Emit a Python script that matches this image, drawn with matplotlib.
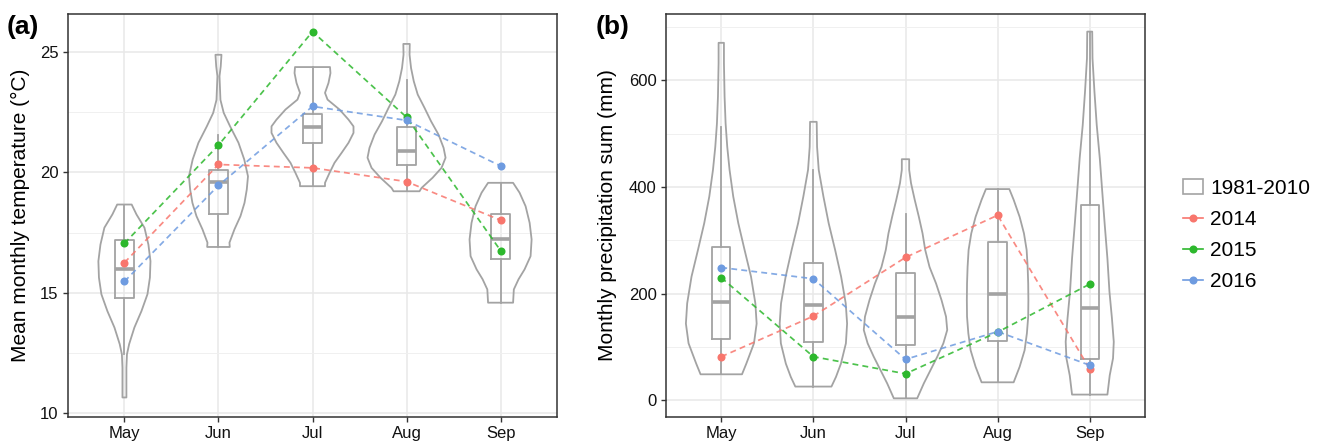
import numpy as np
import matplotlib
matplotlib.use("Agg")
import matplotlib.pyplot as plt
from matplotlib.lines import Line2D
from matplotlib.patches import Patch

plt.rcParams['font.family'] = ['Liberation Sans', 'DejaVu Sans']

months = ["May", "Jun", "Jul", "Aug", "Sep"]
years = ["2014", "2015", "2016"]
year_colors = ["#F8766D", "#2DB82D", "#6E9BE0"]
ref_label = "1981-2010"

# ---- panel (a): mean monthly temperature (deg C) ----
temp_2014 = [16.25, 20.32, 20.18, 19.61, 18.01]
temp_2015 = [17.05, 21.12, 25.83, 22.28, 16.75]
temp_2016 = [15.47, 19.45, 22.73, 22.15, 20.26]

temp_whislo = [12.45, 16.90, 19.42, 19.21, 14.59]
temp_q1 = [14.80, 18.28, 21.22, 20.30, 16.41]
temp_med = [15.98, 19.59, 21.88, 20.86, 17.21]
temp_q3 = [17.17, 20.11, 22.43, 21.86, 18.28]
temp_whishi = [18.66, 21.55, 24.36, 23.84, 19.56]

# violin density profiles (value, half width in category units), 1981-2010
temp_may_v = [18.66, 18.25, 17.70, 17.00, 16.31, 15.63, 14.94, 14.24, 13.56, 12.87, 12.45, 11.90, 10.66]
temp_may_w = [0.077, 0.128, 0.213, 0.255, 0.277, 0.271, 0.245, 0.181, 0.106, 0.050, 0.027, 0.021, 0.021]
temp_jun_v = [24.87, 24.39, 23.98, 23.00, 22.46, 21.90, 21.22, 20.53, 19.83, 19.28, 18.73, 18.18, 17.63, 17.08, 16.90]
temp_jun_w = [0.032, 0.024, 0.011, 0.021, 0.056, 0.124, 0.213, 0.274, 0.314, 0.301, 0.277, 0.234, 0.170, 0.117, 0.120]
temp_jul_v = [24.36, 24.11, 23.70, 23.29, 23.01, 22.60, 22.18, 21.90, 21.63, 21.22, 20.80, 20.39, 19.97, 19.56, 19.42]
temp_jul_w = [0.186, 0.191, 0.170, 0.133, 0.160, 0.287, 0.383, 0.436, 0.436, 0.383, 0.309, 0.234, 0.181, 0.133, 0.133]
temp_aug_v = [25.32, 24.87, 24.32, 23.77, 23.22, 22.67, 22.11, 21.56, 21.01, 20.60, 20.18, 19.77, 19.35, 19.21]
temp_aug_w = [0.034, 0.032, 0.048, 0.077, 0.119, 0.191, 0.261, 0.340, 0.394, 0.415, 0.372, 0.277, 0.160, 0.138]
temp_sep_v = [19.56, 19.15, 18.59, 17.90, 17.21, 16.52, 15.97, 15.56, 15.14, 14.59]
temp_sep_w = [0.133, 0.202, 0.266, 0.309, 0.330, 0.319, 0.255, 0.191, 0.141, 0.133]

# ---- panel (b): monthly precipitation sum (mm) ----
prec_2014 = [82, 158, 268, 347, 59]
prec_2015 = [230, 82, 50, 128, 218]
prec_2016 = [249, 228, 77, 129, 66]

prec_whislo = [49, 26, 4, 34, 11]
prec_q1 = [116, 109, 103, 111, 77]
prec_med = [184, 178, 156, 199, 174]
prec_q3 = [287, 258, 239, 296, 366]
prec_whishi = [513, 432, 349, 396, 691]

prec_may_v = [670, 632, 569, 519, 475, 432, 382, 332, 282, 232, 182, 144, 107, 69, 49]
prec_may_w = [0.029, 0.029, 0.036, 0.047, 0.065, 0.090, 0.130, 0.185, 0.253, 0.323, 0.370, 0.384, 0.355, 0.272, 0.225]
prec_jun_v = [522, 475, 432, 382, 332, 282, 232, 182, 144, 107, 69, 44, 26]
prec_jun_w = [0.036, 0.040, 0.058, 0.109, 0.166, 0.236, 0.301, 0.351, 0.366, 0.353, 0.299, 0.245, 0.196]
prec_jul_v = [452, 432, 407, 376, 344, 313, 282, 250, 219, 188, 157, 132, 107, 82, 57, 32, 4]
prec_jul_w = [0.040, 0.040, 0.060, 0.100, 0.145, 0.185, 0.214, 0.261, 0.332, 0.391, 0.440, 0.453, 0.411, 0.345, 0.272, 0.199, 0.127]
prec_aug_v = [396, 376, 344, 313, 282, 250, 219, 188, 157, 126, 94, 63, 34]
prec_aug_w = [0.127, 0.174, 0.239, 0.286, 0.315, 0.326, 0.332, 0.334, 0.332, 0.318, 0.293, 0.239, 0.174]
prec_sep_v = [691, 641, 579, 516, 454, 391, 329, 266, 204, 154, 110, 79, 47, 11]
prec_sep_w = [0.027, 0.030, 0.051, 0.076, 0.109, 0.136, 0.163, 0.192, 0.214, 0.241, 0.261, 0.253, 0.217, 0.192]

GREY = "#A3A3A3"
BORDER = "#333333"
GRID = "#E8E8E8"

fig = plt.figure(figsize=(13.22, 4.44), dpi=100)
W, H = 1322, 444
ax1 = fig.add_axes([68 / W, 1 - 417 / H, (557 - 68) / W, (417 - 14) / H])
ax2 = fig.add_axes([666 / W, 1 - 417 / H, (1145 - 666) / W, (417 - 14) / H])


def draw_panel(ax, viol_v, viol_w, whislo, q1, med, q3, whishi, series,
               ylim, major, minor):
    pos = np.arange(1, len(months) + 1)
    # violins
    for p, v, w in zip(pos, viol_v, viol_w):
        v = np.asarray(v, float)
        w = np.asarray(w, float)
        xs = np.concatenate([p + w, (p - w)[::-1]])
        ys = np.concatenate([v, v[::-1]])
        ax.fill(xs, ys, facecolor="none", edgecolor=GREY, linewidth=1.3,
                joinstyle="round", zorder=2)
    # boxplots
    stats = []
    for i in range(len(months)):
        stats.append(dict(whislo=whislo[i], q1=q1[i], med=med[i], q3=q3[i],
                          whishi=whishi[i], fliers=[]))
    ax.bxp(stats, positions=pos, widths=0.2, showfliers=False, showcaps=False,
           patch_artist=False, manage_ticks=False,
           boxprops=dict(color=GREY, linewidth=1.3),
           whiskerprops=dict(color=GREY, linewidth=1.3),
           medianprops=dict(color=GREY, linewidth=2.6),
           zorder=3)
    # yearly series
    for vals, col in zip(series, year_colors):
        ax.plot(pos, vals, linestyle=(0, (3.4, 2.4)), color=col, linewidth=1.25,
                alpha=0.85, zorder=4)
        ax.plot(pos, vals, linestyle="none", marker="o", markersize=5.8,
                markeredgewidth=0, color=col, zorder=5)
    ax.set_xlim(0.4, len(months) + 0.6)
    ax.set_ylim(*ylim)
    ax.set_xticks(pos)
    ax.set_xticklabels(months)
    ax.set_yticks(major)
    ax.set_yticks(minor, minor=True)
    ax.grid(True, which="major", color=GRID, linewidth=1.1, zorder=0)
    ax.grid(True, which="minor", axis="y", color="#F0F0F0", linewidth=0.7, zorder=0)
    ax.set_axisbelow(True)
    for s in ax.spines.values():
        s.set_color(BORDER)
        s.set_linewidth(1.1)
    ax.tick_params(axis="both", which="major", length=3.4, width=1.0, color=BORDER,
                   labelsize=12, labelcolor="#111111", pad=3.4)
    ax.tick_params(axis="both", which="minor", length=0)


draw_panel(ax1,
           [temp_may_v, temp_jun_v, temp_jul_v, temp_aug_v, temp_sep_v],
           [temp_may_w, temp_jun_w, temp_jul_w, temp_aug_w, temp_sep_w],
           temp_whislo, temp_q1, temp_med, temp_q3, temp_whishi,
           [temp_2014, temp_2015, temp_2016],
           (9.85, 26.56), [10, 15, 20, 25], [12.5, 17.5, 22.5])
draw_panel(ax2,
           [prec_may_v, prec_jun_v, prec_jul_v, prec_aug_v, prec_sep_v],
           [prec_may_w, prec_jun_w, prec_jul_w, prec_aug_w, prec_sep_w],
           prec_whislo, prec_q1, prec_med, prec_q3, prec_whishi,
           [prec_2014, prec_2015, prec_2016],
           (-31, 724), [0, 200, 400, 600], [100, 300, 500, 700])

ax1.set_ylabel("Mean monthly temperature (°C)", fontsize=15)
ax1.yaxis.set_label_coords((30 - 68) / 489, 0.5)
ax2.set_ylabel("Monthly precipitation sum (mm)", fontsize=15)
ax2.yaxis.set_label_coords((617 - 666) / 479, 0.5)

fig.text(7 / W, 1 - 27 / H, "(a)", fontsize=19, fontweight="bold", ha="left", va="center")
fig.text(596 / W, 1 - 27 / H, "(b)", fontsize=19, fontweight="bold", ha="left", va="center")

handles = [Patch(facecolor="white", edgecolor=GREY, linewidth=1.2)]
for col in year_colors:
    handles.append(Line2D([0], [0], color=col, linewidth=1.2, marker="o",
                          markersize=5.8, markeredgewidth=0))
fig.legend(handles, [ref_label] + years, loc="center left",
           bbox_to_anchor=(1183 / W, 1 - 235 / H), frameon=False, fontsize=15,
           handlelength=0.95, handleheight=0.75, handletextpad=0.35,
           labelspacing=0.58, borderpad=0, borderaxespad=0)

fig.savefig("out.png", dpi=100)
